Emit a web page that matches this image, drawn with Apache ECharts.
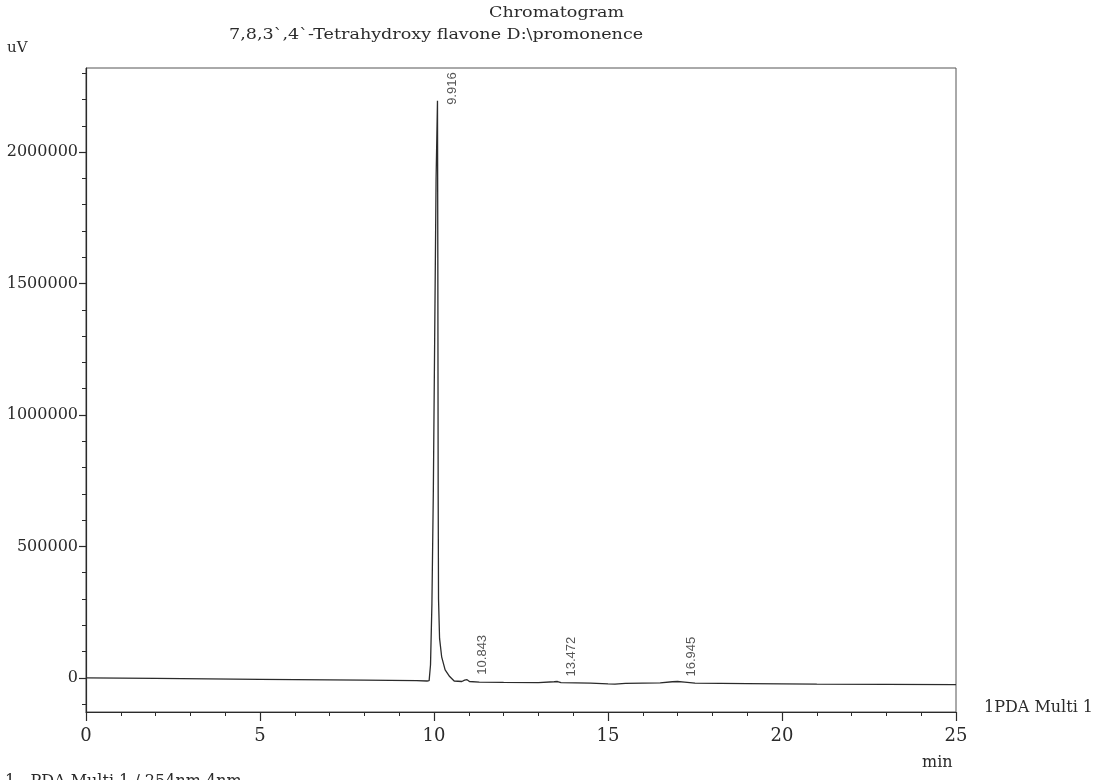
<!DOCTYPE html>
<html>
<head>
<meta charset="utf-8">
<script src="https://cdn.jsdelivr.net/npm/echarts@6/dist/echarts.min.js"></script>
<style>
html,body{margin:0;padding:0;background:#fff;}
#chart{width:1104px;height:780px;}
</style>
</head>
<body>
<div id="chart"></div>
<script>
// ---- data ----
var times = [0, 2, 5, 8, 9.5, 9.8, 9.86, 9.9, 9.94, 9.98, 10.02, 10.06, 10.1, 10.11, 10.12, 10.13, 10.16, 10.22, 10.32, 10.45, 10.58, 10.8, 10.88, 10.95, 11.02, 11.3, 12, 13, 13.45, 13.55, 13.65, 14.5, 15.0, 15.2, 15.5, 16.5, 16.85, 17.0, 17.2, 17.5, 19, 21, 23, 25];
var signal = [0, -2000, -6000, -9000, -11000, -12000, -11000, 50000, 280000, 700000, 1300000, 1900000, 2195000, 1600000, 700000, 300000, 150000, 80000, 30000, 5000, -12000, -14000, -9000, -7000, -14000, -16000, -17000, -18000, -15000, -14000, -18000, -20000, -23000, -24000, -21000, -19000, -15000, -14000, -16000, -20000, -22000, -24000, -25000, -26000];

var peakLabels = ['9.916', '10.843', '13.472', '16.945'];
var peakTimes = [10.1, 10.95, 13.53, 16.98];
var peakValues = [2195000, -7000, -14000, -14000];

var xTickLabels = [0, 5, 10, 15, 20, 25];
var yTickLabels = [0, 500000, 1000000, 1500000, 2000000];
var yMinorTicks = [-100000, 100000, 200000, 300000, 400000, 600000, 700000, 800000, 900000, 1100000, 1200000, 1300000, 1400000, 1600000, 1700000, 1800000, 1900000, 2100000, 2200000, 2300000];

var titleText = 'Chromatogram';
var subtitleText = '7,8,3`,4`-Tetrahydroxy flavone D:\\promonence';
var yUnit = 'uV';
var xUnit = 'min';
var traceName = '1PDA Multi 1';
var footerText = '1   PDA Multi 1 / 254nm 4nm';

// ---- chart ----
var SERIF = '"DejaVu Serif", "Liberation Serif", serif';
var SANS = '"Liberation Sans", Arial, sans-serif';
var INK = '#2b2b2b';

var lineData = times.map(function (t, i) { return [t, signal[i]]; });
var labelData = peakTimes.map(function (t, i) {
  return {
    value: [t, peakValues[i]],
    name: peakLabels[i],
    label: { position: i === 0 ? [15, 4] : [15, -5] }
  };
});

var chart = echarts.init(document.getElementById('chart'), null, { renderer: 'canvas' });

function txt(s, x, y, size, sx) {
  return {
    type: 'text', x: x, y: y, scaleX: sx || 1,
    style: { text: s, font: size + 'px ' + SERIF, fill: INK, textAlign: 'left', textVerticalAlign: 'middle' }
  };
}

var option = {
  backgroundColor: '#ffffff',
  animation: false,
  grid: {
    left: 86, right: 148, top: 68, bottom: 68,
    show: true, borderColor: '#555', borderWidth: 1, backgroundColor: 'transparent'
  },
  xAxis: {
    type: 'value', min: 0, max: 25, interval: 5,
    axisLine: { show: true, onZero: false, lineStyle: { color: INK, width: 1.2 } },
    axisTick: { show: true, inside: false, length: 9, lineStyle: { color: INK, width: 1.2 } },
    minorTick: { show: true, splitNumber: 5, length: 4, lineStyle: { color: INK, width: 1 } },
    axisLabel: {
      show: true, margin: 15, color: INK, fontFamily: SERIF, fontSize: 18,
      customValues: xTickLabels
    },
    splitLine: { show: false }, minorSplitLine: { show: false }
  },
  yAxis: [{
    type: 'value', min: -130000, max: 2320000,
    axisLine: { show: true, onZero: false, lineStyle: { color: INK, width: 1.2 } },
    axisTick: { show: true, length: 7, customValues: yTickLabels, lineStyle: { color: INK, width: 1.2 } },
    axisLabel: {
      show: true, margin: 8, color: INK, fontFamily: SERIF, fontSize: 16,
      customValues: yTickLabels,
      formatter: function (v) { return String(v); }
    },
    splitLine: { show: false }
  }, {
    type: 'value', min: -130000, max: 2320000, position: 'left',
    axisLine: { show: false },
    axisTick: { show: true, length: 4, customValues: yMinorTicks, lineStyle: { color: INK, width: 1 } },
    axisLabel: { show: false },
    splitLine: { show: false }
  }],
  series: [{
    type: 'line',
    data: lineData,
    showSymbol: false,
    symbol: 'none',
    smooth: false,
    lineStyle: { color: INK, width: 1.3 },
    z: 3
  }, {
    type: 'scatter',
    data: labelData,
    symbolSize: 0,
    silent: true,
    label: {
      show: true,
      formatter: function (p) { return p.name; },
      rotate: 90,
      align: 'left',
      verticalAlign: 'middle',
      color: INK,
      fontFamily: SANS,
      fontSize: 13
    },
    z: 4
  }],
  graphic: [
    txt(titleText, 489, 13, 15, 1.17),
    txt(subtitleText, 229, 35, 15, 1.17),
    txt(yUnit, 7, 48, 15, 1),
    txt(xUnit, 922, 763, 16, 1),
    txt(traceName, 984, 708, 16, 1),
    txt(footerText, 5, 782, 16, 1)
  ]
};
chart.setOption(option);
</script>
</body>
</html>
